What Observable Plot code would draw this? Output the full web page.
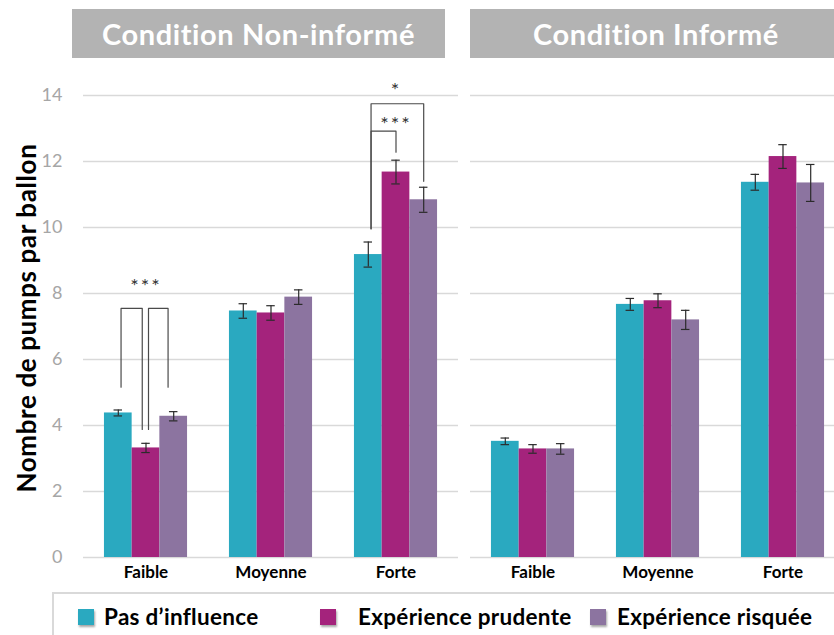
<!DOCTYPE html>
<html><head><meta charset="utf-8">
<script src="https://cdn.jsdelivr.net/npm/d3@7"></script>
<script src="https://cdn.jsdelivr.net/npm/@observablehq/plot@0.6"></script>
<style>
html,body{margin:0;padding:0;overflow:hidden;background:#fff;width:834px;height:635px}
#wrap{position:relative;width:834px;height:635px;overflow:hidden;font-family:Lato,"Open Sans",sans-serif}
#chart{position:absolute;left:0;top:0;width:846px}
#chart svg{max-width:none !important;width:846px;height:592px}
.hdr{position:absolute;top:9px;height:49px;background:#b3b3b3;color:#fff;font-weight:700;font-size:29px;letter-spacing:0.6px;display:flex;align-items:center;justify-content:center;white-space:nowrap}
#ytitle{position:absolute;left:26px;top:318px;transform:translate(-50%,-50%) rotate(-90deg);font-weight:700;font-size:26px;letter-spacing:0.6px;white-space:nowrap;color:#000}
#legend{position:absolute;left:52px;top:592px;width:820px;height:70px;border:2px solid #d9d9d9;box-sizing:border-box}
.sw{position:absolute;top:609px;width:16px;height:16px;box-shadow:1px 2px 2px rgba(0,0,0,0.35)}
.lt{position:absolute;top:603px;font-weight:700;font-size:22.5px;letter-spacing:0.3px;white-space:nowrap;color:#000;line-height:28px}
svg g[aria-label="x-axis tick label"]{font-weight:700}
</style>
</head><body>
<div id="wrap"><div id="chart"></div></div>
<script>
const conditions = ["Condition Non-informé", "Condition Informé"];
const levels = ["Faible", "Moyenne", "Forte"];
const series = ["Pas d’influence", "Expérience prudente", "Expérience risquée"];
const colors = ["#2aa9c0", "#a4237c", "#8c74a0"];
const yTicks = [0, 2, 4, 6, 8, 10, 12, 14];
// means[level][series]
const meansNonInforme = [[4.38, 3.32, 4.28], [7.47, 7.41, 7.89], [9.18, 11.68, 10.84]];
const errNonInforme   = [[0.09, 0.14, 0.14], [0.22, 0.22, 0.22], [0.38, 0.36, 0.38]];
const meansInforme    = [[3.52, 3.29, 3.29], [7.67, 7.78, 7.20], [11.37, 12.15, 11.35]];
const errInforme      = [[0.10, 0.13, 0.16], [0.18, 0.21, 0.29], [0.24, 0.36, 0.56]];
// significance brackets (left panel): level, series from/to, top value, leg end values
const bracketLevel = [0, 0, 2, 2];
const bracketFrom  = [0, 1, 0, 0];
const bracketTo    = [1, 2, 1, 2];
const bracketTop   = [7.55, 7.55, 12.92, 13.75];
const bracketFromEnd = [5.16, 3.88, 9.96, 9.96];
const bracketToEnd   = [3.88, 5.16, 12.28, 11.40];
const starLevel = [0, 2, 2];
const starY     = [8.35, 14.3, 13.28];
const starText  = ["***", "*", "***"];

const bw = 0.2216;     // bar width in group units
const cap = 0.034;     // error cap half width
const xOf = (g, s) => g + (s - 1) * bw;

const allMeans = [meansNonInforme, meansInforme];
const allErr = [errNonInforme, errInforme];
const bars = [];
conditions.forEach((c, ci) => levels.forEach((l, g) => series.forEach((sName, s) => {
  bars.push({cond: c, g, s, x: xOf(g, s), v: allMeans[ci][g][s], e: allErr[ci][g][s], color: colors[s]});
})));

const bracketPts = [];
bracketLevel.forEach((g, i) => {
  let x1 = xOf(g, bracketFrom[i]) + 0.022;
  let x2 = xOf(g, bracketTo[i]);
  if (g === 0 && i === 0) x2 -= 0.03;
  if (g === 0 && i === 1) { x1 = xOf(g, 1) + 0.02; x2 -= 0.045; }
  bracketPts.push({id: i, cond: conditions[0], x: x1, y: bracketFromEnd[i]});
  bracketPts.push({id: i, cond: conditions[0], x: x1, y: bracketTop[i]});
  bracketPts.push({id: i, cond: conditions[0], x: x2, y: bracketTop[i]});
  bracketPts.push({id: i, cond: conditions[0], x: x2, y: bracketToEnd[i]});
});
const stars = starLevel.map((g, i) => ({cond: conditions[0], x: g, y: starY[i], t: starText[i]}));

const plot = Plot.plot({
  width: 846, height: 592,
  marginTop: 95, marginBottom: 35, marginLeft: 83, marginRight: 1,
  style: {fontFamily: "Lato, 'Open Sans', sans-serif", background: "transparent"},
  fx: {domain: conditions, paddingInner: 12 / 387, paddingOuter: 0, axis: null, label: null},
  x: {domain: [-0.5, 2.5], axis: null},
  y: {domain: [0, 14], axis: null},
  color: {type: "identity"},
  marks: [
    Plot.ruleY(yTicks, {stroke: "#d9d9d9", strokeWidth: 1.3}),
    Plot.rect(bars, {fx: "cond", x1: d => d.x - bw / 2, x2: d => d.x + bw / 2, y1: () => 0, y2: "v", fill: "color"}),
    Plot.ruleX(bars, {fx: "cond", x: "x", y1: d => d.v - d.e, y2: d => d.v + d.e, stroke: "#2b2b2b", strokeWidth: 1.2}),
    Plot.ruleY(bars, {fx: "cond", y: d => d.v - d.e, x1: d => d.x - cap, x2: d => d.x + cap, stroke: "#2b2b2b", strokeWidth: 1.2}),
    Plot.ruleY(bars, {fx: "cond", y: d => d.v + d.e, x1: d => d.x - cap, x2: d => d.x + cap, stroke: "#2b2b2b", strokeWidth: 1.2}),
    Plot.line(bracketPts, {fx: "cond", x: "x", y: "y", z: "id", stroke: "#4a4a4a", strokeWidth: 1.2}),
    Plot.text(stars, {fx: "cond", x: "x", y: "y", text: "t", fontSize: 20, fill: "#333", dy: 5}),
    Plot.axisY(yTicks, {tickSize: 0, tickPadding: 21, fontSize: 18, color: "#a6a6a6", label: null}),
    Plot.axisX([0, 1, 2], {tickFormat: i => levels[i], tickSize: 0, tickPadding: 8, fontSize: 17, color: "#000", label: null})
  ]
});
const wrap = document.getElementById("wrap");
document.getElementById("chart").appendChild(plot);
plot.querySelectorAll('g[aria-label="text"] text').forEach(t => t.setAttribute("letter-spacing", "2"));

function addDiv(cls, text, styleObj, id) {
  const d = document.createElement("div");
  if (cls) d.className = cls;
  if (id) d.id = id;
  d.textContent = text;
  Object.assign(d.style, styleObj);
  wrap.appendChild(d);
  return d;
}
addDiv("hdr", conditions[0], {left: "72px", width: "373px"});
addDiv("hdr", conditions[1], {left: "470px", width: "372px"});
addDiv(null, "Nombre de pumps par ballon", {}, "ytitle");
addDiv(null, "", {}, "legend");
const swLeft = [78, 320, 590];
const txLeft = [104, 358, 617];
series.forEach((s, i) => {
  addDiv("sw", "", {left: swLeft[i] + "px", background: colors[i]});
  addDiv("lt", s, {left: txLeft[i] + "px"});
});
</script>
</body></html>
